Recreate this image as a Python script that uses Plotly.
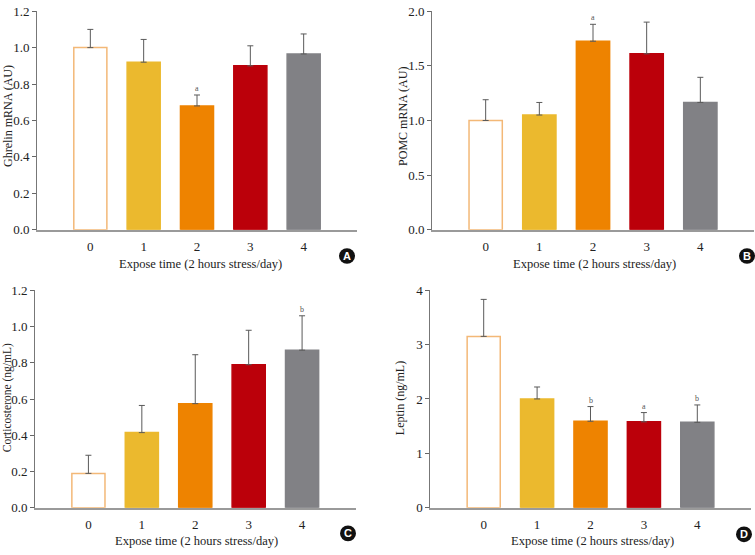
import plotly.graph_objects as go

EXPOSE_DAYS = [0, 1, 2, 3, 4]

GHRELIN_MEAN = [1.00, 0.92, 0.68, 0.90, 0.965]
GHRELIN_UPPER = [1.10, 1.045, 0.74, 1.01, 1.075]
GHRELIN_SIG = ['', '', 'a', '', '']

POMC_MEAN = [1.00, 1.05, 1.725, 1.61, 1.165]
POMC_UPPER = [1.19, 1.165, 1.88, 1.90, 1.395]
POMC_SIG = ['', '', 'a', '', '']

CORT_MEAN = [0.19, 0.415, 0.575, 0.79, 0.87]
CORT_UPPER = [0.29, 0.565, 0.845, 0.98, 1.06]
CORT_SIG = ['', '', '', '', 'b']

LEPTIN_MEAN = [3.15, 2.00, 1.59, 1.58, 1.57]
LEPTIN_UPPER = [3.83, 2.22, 1.86, 1.75, 1.89]
LEPTIN_SIG = ['', '', 'b', 'a', 'b']

BAR_COLORS = ['#ffffff', '#ebb92e', '#ee8300', '#bb000a', '#818185']
OUTLINE_COLORS = ['#f3b877', '#ebb92e', '#ee8300', '#bb000a', '#818185']

FONT = 'Liberation Serif, Times New Roman, serif'
X_TITLE = 'Expose time (2 hours stress/day)'

W, H = 755, 555

# (key, means, uppers, sig letters, y title, y range, dtick,
#  x pixel span of the axis, y pixel span (top, zero line), letter)
PANELS = [
    ('', GHRELIN_MEAN, GHRELIN_UPPER, GHRELIN_SIG, 'Ghrelin mRNA (AU)',
     [0, 1.2], 0.2, (37, 357), (4.3, 229), 'A'),
    ('2', POMC_MEAN, POMC_UPPER, POMC_SIG, 'POMC mRNA (AU)',
     [0, 2.0], 0.5, (432, 754), (4.3, 229), 'B'),
    ('3', CORT_MEAN, CORT_UPPER, CORT_SIG, 'Corticosterone (ng/mL)',
     [0, 1.2], 0.2, (35, 355.5), (291.3, 514.7), 'C'),
    ('4', LEPTIN_MEAN, LEPTIN_UPPER, LEPTIN_SIG, 'Leptin (ng/mL)',
     [0, 4], 1, (430.3, 750.7), (291, 514.7), 'D'),
]

# pixel positions of titles / badges (x, y from top-left)
Y_TITLE_POS = {'A': (8, 112), 'B': (403, 113), 'C': (7, 402), 'D': (400, 402)}
X_TITLE_POS = {'A': (200, 264), 'B': (594, 264), 'C': (197, 549), 'D': (592, 549)}
BADGE_POS = {'A': (347, 256), 'B': (747, 256), 'C': (348, 541), 'D': (744, 542)}


def px_x(x):
    return x / W


def px_y(y):
    return 1 - y / H


fig = go.Figure()
annotations = []
shapes = []

for key, means, uppers, sig, ytitle, yrange, dtick, xspan, yspan, letter in PANELS:
    fig.add_trace(go.Bar(
        x=EXPOSE_DAYS,
        y=means,
        width=0.62,
        marker=dict(color=BAR_COLORS, line=dict(color=OUTLINE_COLORS, width=1.5)),
        error_y=dict(
            type='data', symmetric=False,
            array=[u - m for u, m in zip(uppers, means)],
            arrayminus=[0] * len(means),
            color='#5a5a5a', thickness=1, width=3
        ),
        xaxis='x' + key, yaxis='y' + key,
        showlegend=False, hoverinfo='skip'
    ))
    for xi, up, s in zip(EXPOSE_DAYS, uppers, sig):
        if s:
            annotations.append(dict(
                x=xi, y=up, xref='x' + key, yref='y' + key, text=s,
                showarrow=False, yanchor='bottom', yshift=0,
                font=dict(family=FONT, size=8, color='#555555')
            ))

    fig.layout['xaxis' + key] = dict(
        domain=[px_x(xspan[0]), px_x(xspan[1])], anchor='y' + key, range=[-1, 5],
        tickvals=EXPOSE_DAYS, ticktext=[str(d) for d in EXPOSE_DAYS],
        ticks='', ticklabelstandoff=4,
        showline=True, linecolor='#9a9a9a', linewidth=2,
        showgrid=False, zeroline=False,
        tickfont=dict(family=FONT, size=13, color='#222222'),
    )
    fig.layout['yaxis' + key] = dict(
        domain=[px_y(yspan[1]), px_y(yspan[0])], anchor='x' + key,
        range=yrange, dtick=dtick,
        tickformat='.1f' if dtick < 1 else 'd',
        ticks='outside', ticklen=4, tickcolor='#666666',
        showline=True, linecolor='#777777', linewidth=1,
        showgrid=False, zeroline=False,
        tickfont=dict(family=FONT, size=13, color='#222222'),
    )

    tx, ty = Y_TITLE_POS[letter]
    annotations.append(dict(
        x=px_x(tx), y=px_y(ty), xref='paper', yref='paper', text=ytitle, textangle=-90,
        showarrow=False, xanchor='center', yanchor='middle', borderpad=0,
        font=dict(family=FONT, size=11.5 if letter == 'C' else 12, color='#222222')
    ))
    tx, ty = X_TITLE_POS[letter]
    annotations.append(dict(
        x=px_x(tx), y=px_y(ty), xref='paper', yref='paper', text=X_TITLE,
        showarrow=False, xanchor='center', yanchor='middle',
        font=dict(family=FONT, size=12.5, color='#222222')
    ))

    cx, cy = BADGE_POS[letter]
    shapes.append(dict(
        type='circle', xref='paper', yref='paper',
        x0=px_x(cx - 8), x1=px_x(cx + 8),
        y0=px_y(cy + 8), y1=px_y(cy - 8),
        fillcolor='#111111', line=dict(width=0)
    ))
    annotations.append(dict(
        x=px_x(cx), y=px_y(cy), xref='paper', yref='paper', text='<b>%s</b>' % letter,
        showarrow=False, xanchor='center', yanchor='middle',
        font=dict(family='Liberation Sans, Arial, sans-serif', size=11, color='#ffffff')
    ))

fig.update_layout(
    width=W, height=H,
    margin=dict(l=0, r=0, t=0, b=0),
    paper_bgcolor='white', plot_bgcolor='white',
    annotations=annotations, shapes=shapes,
)

# drop the browser's default 8px body margin so the figure sits at the window corner
fig.write_html(
    "out.html",
    config={'displayModeBar': False},
    post_script="document.body.style.margin = '0';"
)
